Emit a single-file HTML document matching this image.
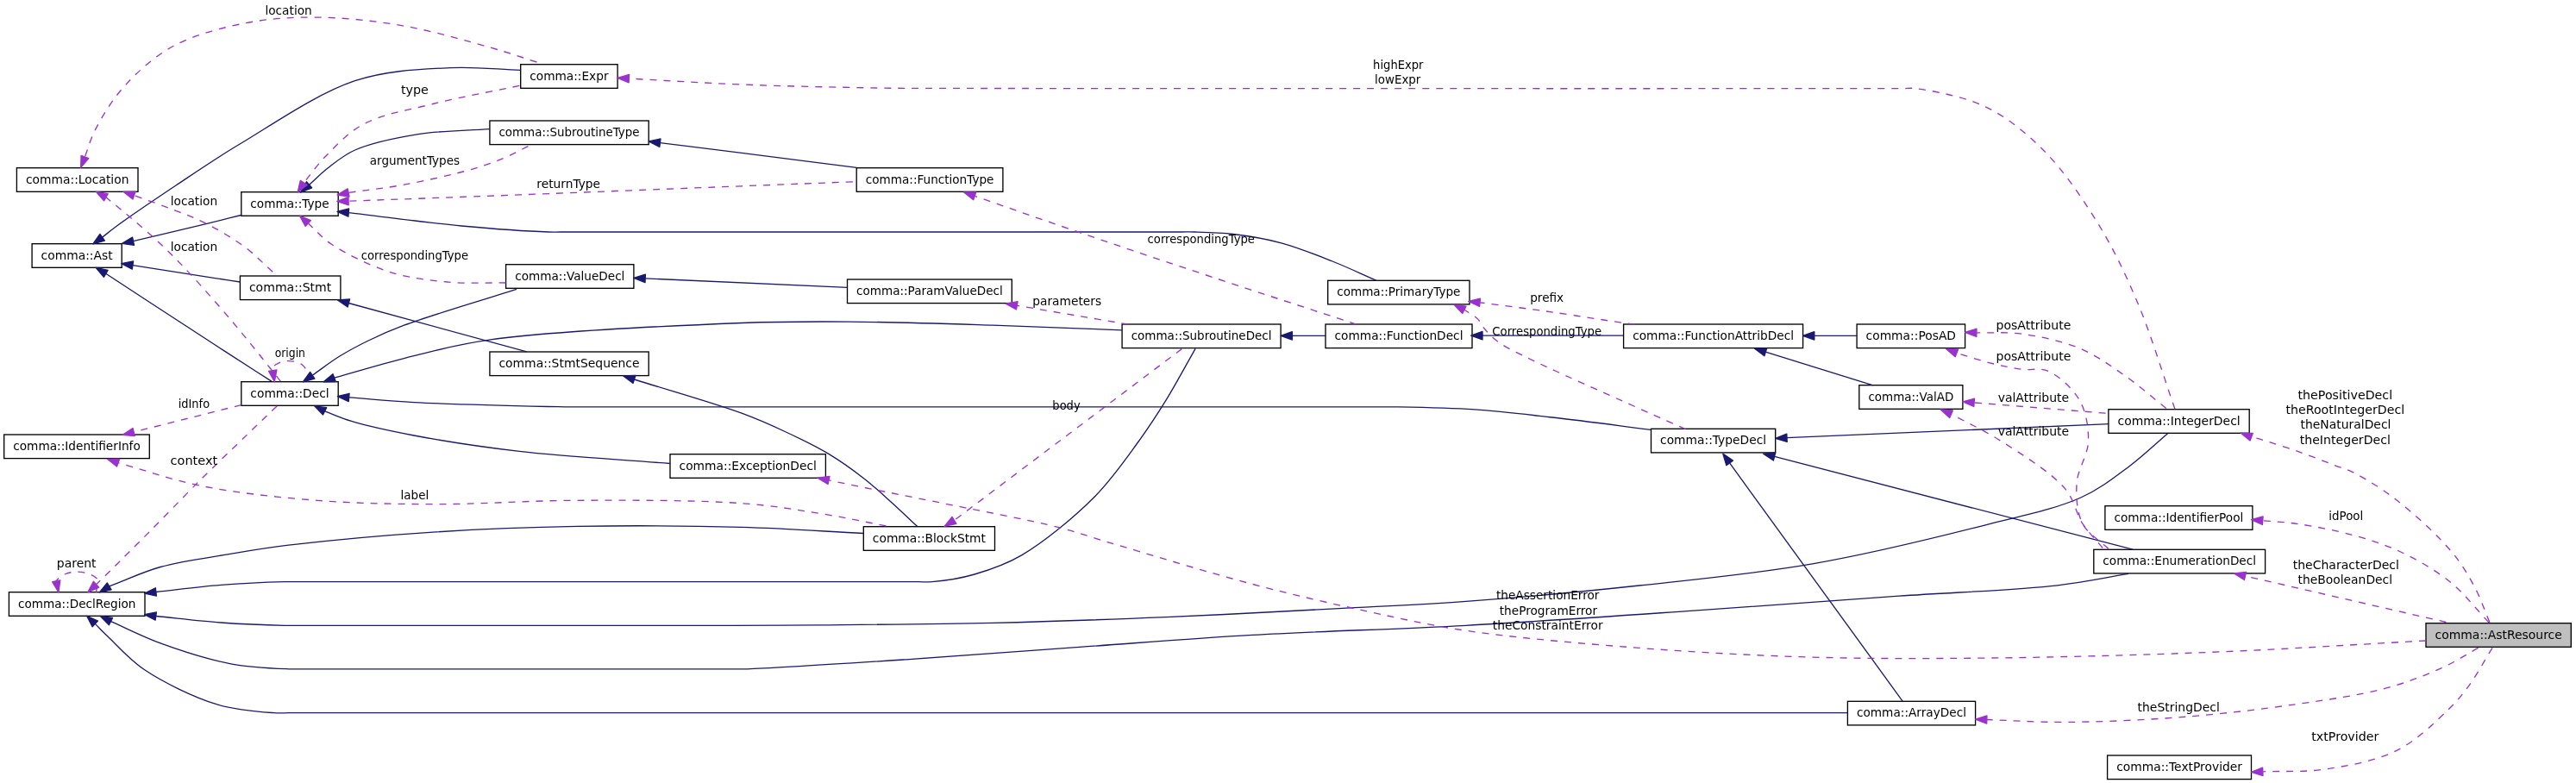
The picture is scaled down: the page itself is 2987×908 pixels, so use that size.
<!DOCTYPE html><html><head><meta charset="utf-8"><title>comma::AstResource Collaboration graph</title>
<style>html,body{margin:0;padding:0;background:#fff}svg{display:block;will-change:transform}text{font-family:"DejaVu Sans","Liberation Sans",sans-serif;font-size:13.9px;fill:#000;text-anchor:middle}</style></head><body>
<svg width="2987" height="908" viewBox="0 0 2987 908">
<rect width="2987" height="908" fill="#fff"/>
<g stroke="#000" stroke-width="1.33">
<rect x="603.7" y="74.7" width="112.4" height="27.6" fill="#fff"/>
<rect x="567.9" y="140.0" width="184.3" height="27.6" fill="#fff"/>
<rect x="19.4" y="194.7" width="140.6" height="27.6" fill="#fff"/>
<rect x="993.2" y="194.7" width="169.7" height="27.6" fill="#fff"/>
<rect x="279.8" y="222.7" width="112.4" height="27.6" fill="#fff"/>
<rect x="37.1" y="282.7" width="104.1" height="27.6" fill="#fff"/>
<rect x="586.6" y="306.7" width="148.3" height="27.6" fill="#fff"/>
<rect x="278.4" y="320.0" width="116.5" height="27.6" fill="#fff"/>
<rect x="982.5" y="324.0" width="190.8" height="27.6" fill="#fff"/>
<rect x="1539.7" y="325.3" width="164.3" height="27.6" fill="#fff"/>
<rect x="1301.1" y="376.0" width="184.0" height="27.6" fill="#fff"/>
<rect x="1537.0" y="376.0" width="170.0" height="27.6" fill="#fff"/>
<rect x="1882.6" y="376.0" width="208.0" height="27.6" fill="#fff"/>
<rect x="2153.1" y="376.0" width="125.5" height="27.6" fill="#fff"/>
<rect x="567.9" y="408.0" width="184.3" height="27.6" fill="#fff"/>
<rect x="279.8" y="442.7" width="112.4" height="27.6" fill="#fff"/>
<rect x="2155.8" y="446.7" width="120.1" height="27.6" fill="#fff"/>
<rect x="2444.9" y="474.7" width="163.3" height="27.6" fill="#fff"/>
<rect x="1914.5" y="497.3" width="144.2" height="27.6" fill="#fff"/>
<rect x="4.7" y="504.0" width="168.6" height="27.6" fill="#fff"/>
<rect x="777.0" y="526.7" width="180.4" height="27.6" fill="#fff"/>
<rect x="2440.9" y="586.7" width="171.0" height="27.6" fill="#fff"/>
<rect x="1001.3" y="610.7" width="152.2" height="27.6" fill="#fff"/>
<rect x="2427.8" y="637.3" width="198.8" height="27.6" fill="#fff"/>
<rect x="10.4" y="686.7" width="157.6" height="27.6" fill="#fff"/>
<rect x="2813.0" y="722.7" width="168.3" height="27.6" fill="#bfbfbf"/>
<rect x="2142.4" y="813.3" width="148.2" height="27.6" fill="#fff"/>
<rect x="2443.6" y="876.0" width="166.9" height="27.6" fill="#fff"/>
</g><g>
<text x="659.9" y="93" textLength="91.3" lengthAdjust="spacingAndGlyphs">comma::Expr</text>
<text x="660.0" y="158" textLength="163.2" lengthAdjust="spacingAndGlyphs">comma::SubroutineType</text>
<text x="89.7" y="213" textLength="119.5" lengthAdjust="spacingAndGlyphs">comma::Location</text>
<text x="1078.1" y="213" textLength="148.6" lengthAdjust="spacingAndGlyphs">comma::FunctionType</text>
<text x="336.0" y="241" textLength="91.3" lengthAdjust="spacingAndGlyphs">comma::Type</text>
<text x="89.1" y="301" textLength="83.0" lengthAdjust="spacingAndGlyphs">comma::Ast</text>
<text x="660.8" y="325" textLength="127.2" lengthAdjust="spacingAndGlyphs">comma::ValueDecl</text>
<text x="336.6" y="338" textLength="95.4" lengthAdjust="spacingAndGlyphs">comma::Stmt</text>
<text x="1077.9" y="342" textLength="169.7" lengthAdjust="spacingAndGlyphs">comma::ParamValueDecl</text>
<text x="1621.8" y="343" textLength="143.2" lengthAdjust="spacingAndGlyphs">comma::PrimaryType</text>
<text x="1393.1" y="394" textLength="162.9" lengthAdjust="spacingAndGlyphs">comma::SubroutineDecl</text>
<text x="1622.0" y="394" textLength="148.9" lengthAdjust="spacingAndGlyphs">comma::FunctionDecl</text>
<text x="1986.6" y="394" textLength="186.9" lengthAdjust="spacingAndGlyphs">comma::FunctionAttribDecl</text>
<text x="2215.8" y="394" textLength="104.4" lengthAdjust="spacingAndGlyphs">comma::PosAD</text>
<text x="660.0" y="426" textLength="163.2" lengthAdjust="spacingAndGlyphs">comma::StmtSequence</text>
<text x="336.0" y="461" textLength="91.3" lengthAdjust="spacingAndGlyphs">comma::Decl</text>
<text x="2215.9" y="465" textLength="99.0" lengthAdjust="spacingAndGlyphs">comma::ValAD</text>
<text x="2526.6" y="493" textLength="142.2" lengthAdjust="spacingAndGlyphs">comma::IntegerDecl</text>
<text x="1986.6" y="515" textLength="123.1" lengthAdjust="spacingAndGlyphs">comma::TypeDecl</text>
<text x="89.0" y="522" textLength="147.5" lengthAdjust="spacingAndGlyphs">comma::IdentifierInfo</text>
<text x="867.2" y="545" textLength="159.3" lengthAdjust="spacingAndGlyphs">comma::ExceptionDecl</text>
<text x="2526.4" y="605" textLength="149.9" lengthAdjust="spacingAndGlyphs">comma::IdentifierPool</text>
<text x="1077.4" y="629" textLength="131.1" lengthAdjust="spacingAndGlyphs">comma::BlockStmt</text>
<text x="2527.2" y="655" textLength="177.7" lengthAdjust="spacingAndGlyphs">comma::EnumerationDecl</text>
<text x="89.2" y="705" textLength="136.5" lengthAdjust="spacingAndGlyphs">comma::DeclRegion</text>
<text x="2897.2" y="741" textLength="147.2" lengthAdjust="spacingAndGlyphs">comma::AstResource</text>
<text x="2216.5" y="831" textLength="127.1" lengthAdjust="spacingAndGlyphs">comma::ArrayDecl</text>
<text x="2527.1" y="894" textLength="145.8" lengthAdjust="spacingAndGlyphs">comma::TextProvider</text>
</g>
<g fill="none" stroke-width="1.33" stroke-linejoin="round">
<path d="M357.0,442.8C356.9,440.2 357.0,437.5 356.7,435.1C356.4,432.9 356.2,430.9 355.2,428.9C354.1,426.7 352.2,424.4 350.1,422.8C347.8,421.1 344.8,420.0 341.9,419.3C338.7,418.6 334.9,418.4 331.7,418.7C328.8,419.0 326.0,419.7 323.6,420.8C321.3,421.8 318.6,423.2 317.4,424.9C316.4,426.3 316.6,428.1 316.2,429.7" stroke="#9a32cd" stroke-dasharray="8,8"/><polygon points="318.3,442.8 311.6,430.4 320.9,428.9" fill="#9a32cd" stroke="#9a32cd"/>
<path d="M111.5,686.7C112.0,681.8 114.7,675.6 113.0,672.0C111.5,668.8 106.7,667.0 103.0,665.5C99.0,663.9 94.2,663.1 89.7,663.1C85.2,663.1 80.0,663.9 76.0,665.5C72.4,667.0 68.1,670.4 66.5,672.0C65.8,672.7 65.7,673.2 65.3,673.8" stroke="#9a32cd" stroke-dasharray="8,8"/><polygon points="67.9,686.8 60.7,674.7 69.8,672.8" fill="#9a32cd" stroke="#9a32cd"/>
<path d="M603.7,81.3C576.5,80.4 551.2,77.1 522.0,78.6C487.9,80.4 449.0,81.3 411.6,93.7C367.8,108.2 315.4,144.8 277.7,167.3C249.1,184.4 228.0,199.0 204.0,215.0C180.6,230.6 150.5,251.0 135.5,262.0C127.9,267.6 124.2,270.8 118.6,275.2" stroke="#191970"/><polygon points="107.8,282.9 115.9,271.4 121.3,279.0" fill="#191970" stroke="#191970"/>
<path d="M279.5,249.5C266.3,252.8 255.7,255.5 240.0,259.3C216.9,264.9 183.0,272.9 154.5,279.7" stroke="#191970"/><polygon points="141.5,282.4 153.6,275.1 155.5,284.3" fill="#191970" stroke="#191970"/>
<path d="M278.4,327.0C265.6,325.0 255.3,323.5 240.0,321.1C217.0,317.5 182.6,312.1 154.0,307.6" stroke="#191970"/><polygon points="140.8,305.6 154.6,302.9 153.3,312.2" fill="#191970" stroke="#191970"/>
<path d="M314.8,442.1C296.5,430.4 282.4,421.4 260.0,406.9C224.5,383.9 168.5,347.1 122.7,317.3" stroke="#191970"/><polygon points="111.3,310.5 125.1,313.3 120.4,321.3" fill="#191970" stroke="#191970"/>
<path d="M567.9,149.6C540.3,151.6 511.6,151.3 485.0,155.6C459.6,159.7 430.5,165.7 411.6,174.0C398.3,179.9 389.3,187.8 380.0,195.0C371.9,201.3 365.7,207.9 358.5,214.3" stroke="#191970"/><polygon points="348.5,223.1 355.4,210.8 361.6,217.8" fill="#191970" stroke="#191970"/>
<path d="M1596.2,325.3C1579.1,317.9 1562.8,310.1 1545.0,303.0C1526.1,295.5 1505.5,287.1 1485.8,281.8C1467.1,276.8 1447.6,273.6 1430.0,271.5C1414.4,269.6 1396.4,269.3 1385.4,269.0C1378.9,268.8 1377.0,269.0 1370.0,269.0C1355.1,269.0 1334.8,269.0 1300.0,269.0C1198.2,269.0 789.6,269.0 700.0,269.0C674.1,269.0 661.6,269.0 650.0,269.0C643.8,269.0 642.7,269.2 635.8,269.0C617.5,268.4 570.7,265.3 535.0,262.0C494.2,258.2 447.8,251.7 404.3,246.6" stroke="#191970"/><polygon points="391.0,245.5 404.6,241.9 403.9,251.2" fill="#191970" stroke="#191970"/>
<path d="M993.2,194.4C948.8,188.7 900.6,182.5 860.0,177.4C825.8,173.1 796.9,169.6 765.4,165.6" stroke="#191970"/><polygon points="752.2,164.0 766.0,161.0 764.8,170.3" fill="#191970" stroke="#191970"/>
<path d="M982.5,333.3L748.2,322.9" stroke="#191970"/><polygon points="734.9,322.3 748.4,318.2 748.0,327.6" fill="#191970" stroke="#191970"/>
<path d="M599.0,335.3C555.5,349.3 499.6,365.5 468.5,377.2C450.7,383.9 440.1,388.7 427.2,395.0C415.3,400.8 404.3,406.6 393.5,413.3C382.7,420.0 372.7,427.9 362.2,435.2" stroke="#191970"/><polygon points="351.3,442.8 359.6,431.4 364.9,439.1" fill="#191970" stroke="#191970"/>
<path d="M1301.1,382.8C1251.1,380.9 1202.5,378.8 1151.2,377.2C1097.0,375.5 1035.5,373.4 983.9,373.1C939.5,372.8 910.0,372.6 860.0,374.5C783.4,377.5 637.8,384.4 569.0,393.9C530.6,399.2 509.8,405.4 480.0,412.6C449.4,420.0 418.4,429.6 387.6,438.1" stroke="#191970"/><polygon points="375.2,442.8 386.0,433.7 389.3,442.5" fill="#191970" stroke="#191970"/>
<path d="M1914.2,498.3C1876.1,493.5 1835.8,488.1 1800.0,484.0C1768.2,480.4 1740.1,476.9 1710.0,474.9C1680.0,472.9 1637.0,472.2 1619.7,471.9C1612.7,471.8 1611.5,471.9 1605.0,471.9C1592.5,471.9 1579.2,471.9 1550.0,471.9C1435.1,471.9 806.0,472.0 700.0,471.9C675.6,471.9 666.9,471.9 655.0,471.8C647.3,471.7 645.3,471.7 635.8,471.5C608.8,470.9 522.6,468.9 480.0,466.6C450.3,465.0 429.8,462.8 404.6,460.9" stroke="#191970"/><polygon points="391.4,459.6 405.1,456.3 404.2,465.6" fill="#191970" stroke="#191970"/>
<path d="M777.0,537.5C718.8,532.8 655.3,529.5 602.3,523.4C557.8,518.3 515.4,511.7 480.0,505.0C452.6,499.8 426.4,494.1 407.5,488.4C394.9,484.6 386.9,480.7 376.6,476.8" stroke="#191970"/><polygon points="364.7,470.9 378.7,472.7 374.5,481.0" fill="#191970" stroke="#191970"/>
<path d="M610.7,407.9L404.3,351.5" stroke="#191970"/><polygon points="391.5,348.0 405.6,347.0 403.1,356.0" fill="#191970" stroke="#191970"/>
<path d="M1063.5,610.3C1053.3,600.8 1043.1,591.0 1032.8,581.7C1022.7,572.6 1013.4,563.9 1002.2,555.2C989.8,545.5 976.1,535.5 961.3,526.6C945.3,517.0 926.5,508.0 909.2,500.0C892.7,492.3 880.4,486.7 860.0,479.2C828.2,467.5 777.0,453.1 735.5,440.0" stroke="#191970"/><polygon points="722.8,436.0 736.9,435.5 734.1,444.4" fill="#191970" stroke="#191970"/>
<path d="M1001.3,618.5C954.2,616.1 910.6,612.8 860.0,611.4C801.2,609.8 730.8,609.3 669.3,610.4C611.7,611.4 557.7,613.5 502.0,617.1C446.2,620.7 378.2,627.0 334.6,632.2C306.6,635.6 289.5,638.6 265.7,642.6C240.1,646.9 210.3,650.7 186.0,657.5C164.5,663.5 146.5,672.5 126.7,679.9" stroke="#191970"/><polygon points="115.3,686.8 124.3,675.9 129.1,683.9" fill="#191970" stroke="#191970"/>
<path d="M1386.1,404.3C1374.7,424.3 1363.5,445.5 1352.0,464.2C1341.5,481.2 1332.5,495.1 1320.2,512.0C1305.4,532.3 1289.0,556.3 1268.3,577.0C1244.8,600.5 1210.6,628.7 1184.6,643.9C1165.3,655.2 1148.0,660.8 1130.0,666.0C1113.5,670.8 1092.8,673.7 1080.9,674.7C1074.2,675.3 1072.1,674.7 1065.0,674.7C1050.7,674.7 1032.6,674.7 1000.0,674.7C900.9,674.7 493.0,674.7 400.0,674.7C371.9,674.7 357.6,674.7 345.0,674.7C338.4,674.7 336.9,674.5 330.0,674.7C314.7,675.1 280.9,676.5 256.2,678.4C231.2,680.4 205.9,683.8 180.8,686.5" stroke="#191970"/><polygon points="167.6,688.0 180.3,681.8 181.4,691.1" fill="#191970" stroke="#191970"/>
<path d="M2513.5,502.7C2498.9,515.2 2485.7,528.3 2469.7,540.2C2452.4,553.1 2435.8,566.5 2412.8,577.0C2382.8,590.6 2344.8,597.9 2302.3,608.8C2245.5,623.3 2168.8,642.2 2101.6,653.9C2035.0,665.5 1967.8,671.7 1900.8,679.0C1833.9,686.2 1761.8,692.9 1700.0,697.4C1647.1,701.3 1605.6,702.8 1552.7,705.6C1491.0,708.9 1418.9,712.8 1352.0,715.6C1285.1,718.4 1218.2,720.8 1151.2,722.3C1084.2,723.8 1005.5,724.3 950.0,724.8C910.9,725.1 895.3,725.2 850.0,725.3C753.9,725.5 477.7,725.3 400.0,725.3C372.8,725.3 357.6,725.3 345.0,725.3C338.4,725.3 336.9,725.5 330.0,725.3C314.7,725.0 280.9,723.8 256.2,722.0C231.2,720.2 205.9,717.0 180.8,714.5" stroke="#191970"/><polygon points="167.6,712.6 181.4,709.9 180.1,719.1" fill="#191970" stroke="#191970"/>
<path d="M2468.0,665.4C2440.7,669.9 2418.9,675.0 2386.0,678.8C2337.0,684.4 2267.0,686.7 2202.0,691.2C2128.6,696.3 2048.4,702.4 1967.7,707.9C1881.4,713.8 1787.5,720.5 1700.0,725.3C1615.9,729.9 1530.5,731.9 1452.3,736.4C1381.9,740.4 1318.5,745.7 1251.6,750.4C1184.7,755.1 1116.3,760.5 1050.8,764.8C988.1,768.9 895.1,775.0 866.7,775.8C858.1,776.1 857.1,775.8 850.0,775.8C837.8,775.8 824.6,775.8 800.0,775.8C730.3,775.8 469.7,775.8 400.0,775.8C375.4,775.8 361.9,775.8 350.0,775.8C343.4,775.8 341.5,776.1 334.6,775.8C320.1,775.2 290.8,774.2 267.7,769.8C241.9,764.9 211.8,755.3 187.4,746.4C166.0,738.6 148.1,729.2 128.5,720.6" stroke="#191970"/><polygon points="116.6,714.7 130.6,716.4 126.4,724.8" fill="#191970" stroke="#191970"/>
<path d="M2142.4,826.7C2094.9,826.7 2073.1,826.7 2000.0,826.7C1754.9,826.7 578.9,826.7 400.0,826.7C363.9,826.7 349.7,826.7 335.0,826.7C327.5,826.7 325.4,827.3 317.9,826.7C302.9,825.6 274.0,823.8 251.0,816.7C224.1,808.4 189.5,791.4 167.3,776.5C150.2,765.0 136.6,749.2 126.2,739.3C119.6,733.0 115.6,728.7 110.3,723.4" stroke="#191970"/><polygon points="100.6,714.3 113.5,720.0 107.1,726.8" fill="#191970" stroke="#191970"/>
<path d="M1537.0,389.3L1498.4,389.3" stroke="#191970"/><polygon points="1485.1,389.3 1498.4,384.6 1498.4,394.0" fill="#191970" stroke="#191970"/>
<path d="M1882.4,389.2L1719.0,389.2" stroke="#191970"/><polygon points="1705.7,389.2 1719.0,384.5 1719.0,393.9" fill="#191970" stroke="#191970"/>
<path d="M2153.1,389.3L2103.8,389.3" stroke="#191970"/><polygon points="2090.5,389.3 2103.8,384.6 2103.8,394.0" fill="#191970" stroke="#191970"/>
<path d="M2172.0,446.8L2047.3,408.2" stroke="#191970"/><polygon points="2034.6,404.3 2048.7,403.8 2045.9,412.7" fill="#191970" stroke="#191970"/>
<path d="M2445.2,491.6L2072.0,507.7" stroke="#191970"/><polygon points="2058.7,508.3 2071.8,503.1 2072.2,512.4" fill="#191970" stroke="#191970"/>
<path d="M2473.0,637.2L2057.6,529.4" stroke="#191970"/><polygon points="2044.7,526.1 2058.7,524.9 2056.4,534.0" fill="#191970" stroke="#191970"/>
<path d="M2206.3,813.3L2005.6,536.9" stroke="#191970"/><polygon points="1997.8,526.1 2009.4,534.1 2001.8,539.6" fill="#191970" stroke="#191970"/>
<path d="M622.4,72.0C604.6,66.4 589.6,61.0 568.9,55.2C540.8,47.3 502.2,36.0 468.5,30.1C435.2,24.3 400.1,20.4 368.1,20.1C338.9,19.8 312.0,21.4 284.4,26.8C256.2,32.4 224.9,40.3 200.8,53.5C178.7,65.6 159.4,83.3 143.9,100.4C129.9,115.9 118.2,135.4 110.4,150.6C104.6,161.9 102.4,171.5 98.4,182.0" stroke="#9a32cd" stroke-dasharray="8,8"/><polygon points="93.7,194.4 94.1,180.3 102.8,183.6" fill="#9a32cd" stroke="#9a32cd"/>
<path d="M602.3,99.4C568.9,106.4 533.4,112.6 502.0,120.5C473.6,127.6 443.3,132.2 421.6,143.9C403.7,153.5 390.3,168.4 378.1,180.7C367.8,191.1 360.8,201.5 352.2,211.9" stroke="#9a32cd" stroke-dasharray="8,8"/><polygon points="345.1,223.1 348.3,209.4 356.2,214.4" fill="#9a32cd" stroke="#9a32cd"/>
<path d="M612.4,169.7C603.3,174.1 594.9,178.9 585.0,183.0C573.9,187.6 563.4,191.6 548.8,195.8C527.4,202.0 493.9,209.5 468.5,214.2C445.9,218.4 425.5,220.3 404.0,223.4" stroke="#9a32cd" stroke-dasharray="8,8"/><polygon points="391.0,226.0 403.1,218.8 405.0,228.0" fill="#9a32cd" stroke="#9a32cd"/>
<path d="M988.9,210.8C945.9,212.5 910.3,213.8 860.0,215.8C788.8,218.6 682.6,222.8 602.3,225.9C531.9,228.6 470.2,230.8 404.1,233.2" stroke="#9a32cd" stroke-dasharray="8,8"/><polygon points="390.8,233.4 404.0,228.6 404.2,237.9" fill="#9a32cd" stroke="#9a32cd"/>
<path d="M586.6,328.0C564.0,327.7 541.2,329.1 518.7,327.0C496.2,324.9 473.6,322.3 451.8,315.3C429.0,308.0 401.7,294.7 384.8,283.5C372.9,275.6 366.5,267.1 357.3,259.0" stroke="#9a32cd" stroke-dasharray="8,8"/><polygon points="347.4,250.1 360.4,255.5 354.2,262.4" fill="#9a32cd" stroke="#9a32cd"/>
<path d="M316.2,315.3C305.6,305.8 296.3,295.7 284.4,286.8C271.2,277.0 254.4,267.1 240.0,259.7C227.2,253.1 215.9,249.0 202.6,243.8C187.9,238.0 171.2,232.3 155.5,226.6" stroke="#9a32cd" stroke-dasharray="8,8"/><polygon points="142.9,222.3 157.0,222.2 154.0,231.0" fill="#9a32cd" stroke="#9a32cd"/>
<path d="M325.3,442.1C314.1,428.0 301.9,412.6 291.6,399.9C283.0,389.3 277.0,381.9 267.7,371.0C255.3,356.5 237.7,336.2 223.7,321.1C211.5,308.0 200.6,296.6 188.6,285.2C176.8,273.9 163.7,262.8 152.1,252.9C141.9,244.2 132.6,236.8 122.9,228.8" stroke="#9a32cd" stroke-dasharray="8,8"/><polygon points="111.3,222.3 125.2,224.7 120.6,232.9" fill="#9a32cd" stroke="#9a32cd"/>
<path d="M279.7,469.6L155.1,501.0" stroke="#9a32cd" stroke-dasharray="8,8"/><polygon points="142.2,504.3 154.0,496.5 156.2,505.6" fill="#9a32cd" stroke="#9a32cd"/>
<path d="M321.1,470.9C309.6,481.9 299.5,491.5 286.7,503.9C270.3,519.7 249.5,539.5 230.9,558.0C211.9,576.9 189.0,600.9 174.0,616.0C164.3,625.8 157.2,632.7 149.9,640.0C143.8,646.1 139.1,650.8 133.2,656.7C126.5,663.3 118.8,670.7 111.5,677.8" stroke="#9a32cd" stroke-dasharray="8,8"/><polygon points="101.8,686.8 108.4,674.3 114.7,681.2" fill="#9a32cd" stroke="#9a32cd"/>
<path d="M1027.4,609.8C1001.7,605.0 977.2,599.6 950.4,595.4C921.5,590.8 895.8,586.3 860.0,583.7C808.2,579.9 730.8,580.0 669.3,580.3C611.7,580.5 554.7,584.9 502.0,584.7C454.9,584.5 412.7,583.8 368.1,580.3C323.4,576.8 275.0,571.8 234.2,563.6C198.9,556.6 169.4,545.6 137.1,536.7" stroke="#9a32cd" stroke-dasharray="8,8"/><polygon points="124.5,532.3 138.6,532.2 135.5,541.1" fill="#9a32cd" stroke="#9a32cd"/>
<path d="M1308.4,376.2L1179.3,354.3" stroke="#9a32cd" stroke-dasharray="8,8"/><polygon points="1166.2,352.1 1180.1,349.7 1178.5,358.9" fill="#9a32cd" stroke="#9a32cd"/>
<path d="M1572.8,376.2C1499.2,352.0 1414.8,324.5 1352.0,303.5C1305.2,287.9 1268.4,275.3 1229.8,262.0C1194.9,250.0 1163.4,238.9 1130.3,227.3" stroke="#9a32cd" stroke-dasharray="8,8"/><polygon points="1117.7,222.9 1131.8,222.9 1128.7,231.7" fill="#9a32cd" stroke="#9a32cd"/>
<path d="M1370.3,404.6C1327.4,437.0 1284.9,469.0 1241.5,501.7C1197.0,535.2 1151.5,569.5 1106.5,603.4" stroke="#9a32cd" stroke-dasharray="8,8"/><polygon points="1095.1,610.3 1104.0,599.4 1108.9,607.4" fill="#9a32cd" stroke="#9a32cd"/>
<path d="M1895.8,376.2C1890.5,375.5 1887.3,375.1 1880.0,374.1C1863.7,371.8 1827.4,365.9 1800.5,362.1C1772.8,358.1 1744.2,354.5 1716.0,350.8" stroke="#9a32cd" stroke-dasharray="8,8"/><polygon points="1702.8,349.5 1716.5,346.1 1715.6,355.4" fill="#9a32cd" stroke="#9a32cd"/>
<path d="M1954.3,497.6C1904.0,475.1 1834.6,444.4 1803.3,430.0C1789.1,423.5 1783.0,420.8 1772.4,415.5C1761.0,409.8 1746.3,403.1 1737.3,396.6C1730.7,391.8 1726.0,386.7 1721.8,381.8C1718.3,377.8 1717.0,373.5 1713.4,369.9C1709.3,365.8 1703.1,362.8 1697.9,359.3" stroke="#9a32cd" stroke-dasharray="8,8"/><polygon points="1686.0,353.3 1700.0,355.1 1695.8,363.5" fill="#9a32cd" stroke="#9a32cd"/>
<path d="M2521.9,474.2C2507.4,432.9 2494.4,388.1 2478.4,350.4C2464.3,317.2 2450.7,288.4 2432.8,259.3C2414.5,229.6 2392.6,197.4 2369.3,174.0C2348.6,153.3 2326.9,135.7 2302.3,123.8C2277.8,112.0 2239.0,104.9 2222.0,102.7C2214.3,101.7 2212.3,102.7 2205.0,102.7C2191.9,102.7 2179.8,102.7 2150.0,102.7C2019.6,102.7 1253.4,102.8 1100.0,102.4C1056.9,102.3 1049.3,102.5 1017.3,102.0C973.2,101.3 910.0,100.0 860.0,98.0C814.4,96.2 772.9,93.4 729.4,91.1" stroke="#9a32cd" stroke-dasharray="8,8"/><polygon points="716.1,90.4 729.6,86.4 729.1,95.8" fill="#9a32cd" stroke="#9a32cd"/>
<path d="M2511.8,473.5C2495.1,460.3 2478.7,445.8 2461.6,434.0C2445.2,422.7 2430.0,411.6 2411.4,403.9C2391.3,395.6 2365.6,390.1 2344.5,387.2C2326.1,384.7 2309.4,386.3 2291.9,385.8" stroke="#9a32cd" stroke-dasharray="8,8"/><polygon points="2278.6,385.5 2292.0,381.2 2291.8,390.5" fill="#9a32cd" stroke="#9a32cd"/>
<path d="M2444.9,636.5C2434.9,626.7 2421.0,619.3 2414.8,607.1C2408.2,594.2 2407.1,575.8 2408.1,560.2C2409.1,544.1 2421.0,528.1 2421.5,512.0C2422.0,496.1 2419.1,477.8 2411.4,464.2C2403.7,450.5 2387.6,435.9 2375.0,430.4C2365.1,426.1 2354.8,429.7 2344.3,428.3C2333.1,426.8 2321.9,424.4 2310.0,421.5C2296.8,418.3 2282.6,413.4 2268.9,409.4" stroke="#9a32cd" stroke-dasharray="8,8"/><polygon points="2256.5,404.5 2270.6,405.0 2267.2,413.7" fill="#9a32cd" stroke="#9a32cd"/>
<path d="M2441.6,479.2L2289.2,466.9" stroke="#9a32cd" stroke-dasharray="8,8"/><polygon points="2275.9,465.8 2289.5,462.2 2288.8,471.5" fill="#9a32cd" stroke="#9a32cd"/>
<path d="M2438.2,635.5C2430.4,626.0 2421.8,617.8 2414.8,607.1C2407.1,595.2 2405.7,580.1 2394.7,566.9C2379.0,548.1 2344.8,527.1 2321.1,512.0C2300.9,499.1 2282.1,490.8 2262.5,480.2" stroke="#9a32cd" stroke-dasharray="8,8"/><polygon points="2250.3,475.0 2264.4,475.9 2260.7,484.5" fill="#9a32cd" stroke="#9a32cd"/>
<path d="M2886.9,721.7C2881.1,708.1 2876.6,694.2 2869.5,680.9C2862.1,666.9 2854.7,654.2 2842.9,640.0C2827.1,621.1 2800.1,596.4 2779.5,580.3C2762.6,567.1 2743.8,555.5 2730.0,548.5C2721.0,543.9 2715.4,542.7 2706.5,539.3C2694.8,534.8 2679.3,528.7 2665.6,523.9C2652.0,519.1 2634.9,513.7 2624.8,510.6C2618.9,508.8 2615.4,508.0 2610.7,506.7" stroke="#9a32cd" stroke-dasharray="8,8"/><polygon points="2598.2,502.1 2612.3,502.3 2609.1,511.1" fill="#9a32cd" stroke="#9a32cd"/>
<path d="M2885.9,721.7C2870.9,706.0 2857.8,688.3 2840.9,674.7C2823.8,661.0 2802.9,649.1 2783.7,640.0C2765.9,631.6 2748.9,626.3 2730.0,621.0C2709.7,615.3 2684.8,610.6 2665.6,607.7C2650.2,605.4 2637.7,605.0 2623.8,603.7" stroke="#9a32cd" stroke-dasharray="8,8"/><polygon points="2610.5,602.6 2624.1,599.0 2623.4,608.4" fill="#9a32cd" stroke="#9a32cd"/>
<path d="M2836.4,721.5L2603.5,668.0" stroke="#9a32cd" stroke-dasharray="8,8"/><polygon points="2590.5,665.0 2604.5,663.4 2602.4,672.5" fill="#9a32cd" stroke="#9a32cd"/>
<path d="M2813.0,743.0C2729.3,747.5 2646.4,753.1 2562.0,756.4C2476.2,759.8 2383.3,762.3 2302.3,763.1C2231.1,763.8 2168.5,764.0 2101.6,762.1C2034.7,760.2 1967.7,756.5 1900.8,751.4C1833.8,746.3 1757.3,739.7 1700.0,731.3C1656.5,724.9 1625.6,717.6 1586.2,709.1C1543.3,699.8 1499.3,689.8 1452.3,677.4C1399.5,663.5 1326.3,641.0 1285.0,628.8C1260.6,621.6 1250.0,617.3 1226.9,611.4C1193.7,603.0 1141.0,593.3 1104.3,585.8C1074.3,579.7 1047.9,574.6 1022.6,569.5C1000.6,565.1 981.5,561.1 961.0,556.9" stroke="#9a32cd" stroke-dasharray="8,8"/><polygon points="948.0,554.1 962.0,552.4 960.0,561.5" fill="#9a32cd" stroke="#9a32cd"/>
<path d="M2873.6,751.4C2859.3,759.2 2846.8,767.6 2830.7,774.9C2811.5,783.6 2789.9,791.9 2765.3,798.4C2735.2,806.4 2699.0,811.4 2662.4,816.7C2620.8,822.7 2573.3,828.2 2528.6,831.7C2484.0,835.1 2435.0,837.2 2394.7,837.4C2361.5,837.6 2334.2,835.5 2303.9,834.5" stroke="#9a32cd" stroke-dasharray="8,8"/><polygon points="2290.6,834.1 2304.0,829.9 2303.7,839.2" fill="#9a32cd" stroke="#9a32cd"/>
<path d="M2890.0,751.4C2881.1,765.7 2872.5,781.9 2863.4,794.3C2855.7,804.9 2850.1,812.0 2839.8,822.0C2824.8,836.5 2802.6,858.6 2779.5,870.2C2755.0,882.5 2722.9,888.0 2695.9,892.0C2671.2,895.7 2647.8,893.9 2623.8,894.8" stroke="#9a32cd" stroke-dasharray="8,8"/><polygon points="2610.5,895.3 2623.6,890.1 2624.0,899.5" fill="#9a32cd" stroke="#9a32cd"/>
</g>
<g>
<text x="334.6" y="17" textLength="54.4" lengthAdjust="spacingAndGlyphs">location</text>
<text x="480.9" y="109" textLength="32.0" lengthAdjust="spacingAndGlyphs">type</text>
<text x="480.9" y="191" textLength="104.2" lengthAdjust="spacingAndGlyphs">argumentTypes</text>
<text x="659.2" y="218" textLength="73.8" lengthAdjust="spacingAndGlyphs">returnType</text>
<text x="480.9" y="301" textLength="124.4" lengthAdjust="spacingAndGlyphs">correspondingType</text>
<text x="224.9" y="238" textLength="54.4" lengthAdjust="spacingAndGlyphs">location</text>
<text x="224.9" y="291" textLength="54.4" lengthAdjust="spacingAndGlyphs">location</text>
<text x="336.3" y="414" textLength="35.3" lengthAdjust="spacingAndGlyphs">origin</text>
<text x="224.9" y="473" textLength="36.3" lengthAdjust="spacingAndGlyphs">idInfo</text>
<text x="224.9" y="539" textLength="54.7" lengthAdjust="spacingAndGlyphs">context</text>
<text x="88.7" y="658" textLength="45.7" lengthAdjust="spacingAndGlyphs">parent</text>
<text x="480.9" y="579" textLength="32.6" lengthAdjust="spacingAndGlyphs">label</text>
<text x="1237.2" y="354" textLength="79.8" lengthAdjust="spacingAndGlyphs">parameters</text>
<text x="1392.8" y="282" textLength="124.4" lengthAdjust="spacingAndGlyphs">correspondingType</text>
<text x="1236.5" y="475" textLength="32.3" lengthAdjust="spacingAndGlyphs">body</text>
<text x="1793.7" y="350" textLength="39.0" lengthAdjust="spacingAndGlyphs">prefix</text>
<text x="1793.7" y="389" textLength="126.7" lengthAdjust="spacingAndGlyphs">CorrespondingType</text>
<text x="1621.3" y="80" textLength="58.4" lengthAdjust="spacingAndGlyphs">highExpr</text>
<text x="1620.7" y="97" textLength="53.4" lengthAdjust="spacingAndGlyphs">lowExpr</text>
<text x="2357.9" y="382" textLength="86.8" lengthAdjust="spacingAndGlyphs">posAttribute</text>
<text x="2357.9" y="418" textLength="86.8" lengthAdjust="spacingAndGlyphs">posAttribute</text>
<text x="2357.9" y="466" textLength="82.5" lengthAdjust="spacingAndGlyphs">valAttribute</text>
<text x="2357.9" y="505" textLength="82.5" lengthAdjust="spacingAndGlyphs">valAttribute</text>
<text x="2719.3" y="463" textLength="109.6" lengthAdjust="spacingAndGlyphs">thePositiveDecl</text>
<text x="2719.3" y="480" textLength="137.7" lengthAdjust="spacingAndGlyphs">theRootIntegerDecl</text>
<text x="2720.0" y="497" textLength="104.9" lengthAdjust="spacingAndGlyphs">theNaturalDecl</text>
<text x="2719.3" y="515" textLength="105.2" lengthAdjust="spacingAndGlyphs">theIntegerDecl</text>
<text x="2720.3" y="603" textLength="40.0" lengthAdjust="spacingAndGlyphs">idPool</text>
<text x="2720.3" y="660" textLength="123.3" lengthAdjust="spacingAndGlyphs">theCharacterDecl</text>
<text x="2719.3" y="677" textLength="109.6" lengthAdjust="spacingAndGlyphs">theBooleanDecl</text>
<text x="1794.7" y="695" textLength="119.6" lengthAdjust="spacingAndGlyphs">theAssertionError</text>
<text x="1795.4" y="713" textLength="113.3" lengthAdjust="spacingAndGlyphs">theProgramError</text>
<text x="1794.7" y="730" textLength="127.7" lengthAdjust="spacingAndGlyphs">theConstraintError</text>
<text x="2526.2" y="825" textLength="95.2" lengthAdjust="spacingAndGlyphs">theStringDecl</text>
<text x="2719.3" y="859" textLength="78.1" lengthAdjust="spacingAndGlyphs">txtProvider</text>
</g></svg></body></html>
